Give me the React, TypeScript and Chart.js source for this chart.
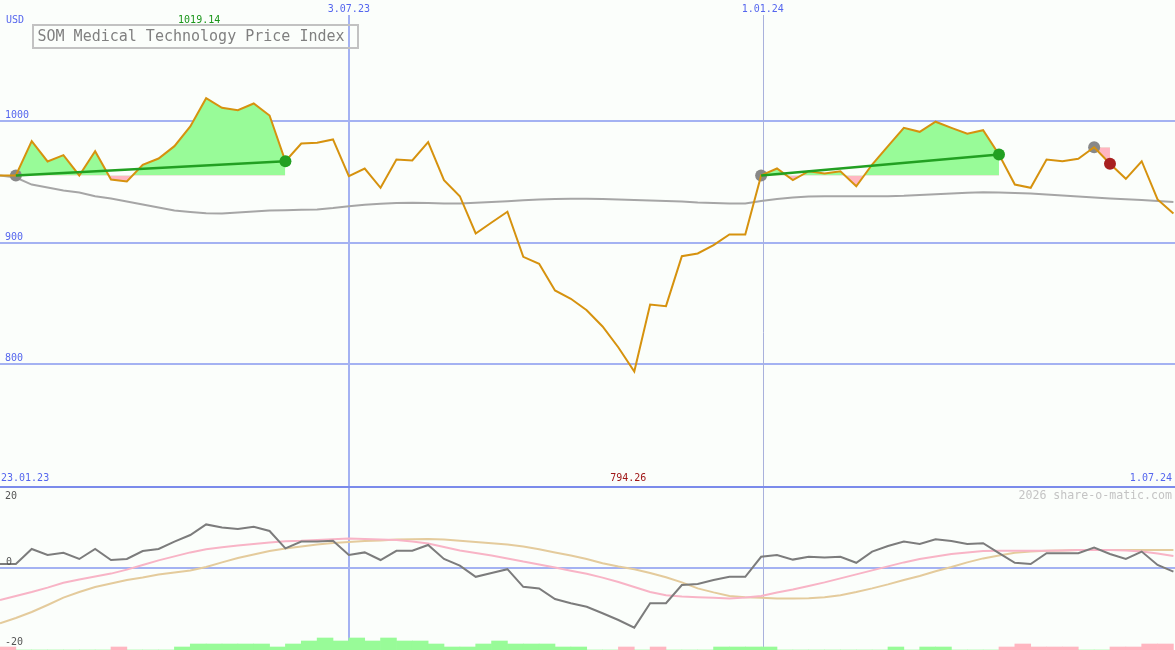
import React, { useEffect, useRef } from 'react';
import { Chart, registerables } from 'chart.js';

Chart.register(...registerables);

// ---- data (weekly points, index 0 = first week) ----
const PRICES = [
  955.6, 955.6, 983.8, 967.1, 972.3, 955.6, 975.6, 952.3, 950.6, 964.4,
  969.5, 979.7, 995.9, 1019.14, 1011.3, 1009.3, 1014.8, 1004.9, 967.3, 981.9,
  982.5, 985.2, 955.0, 961.3, 945.4, 968.7, 967.9, 983.0, 951.7, 938.5,
  907.8, 916.9, 925.7, 888.6, 882.9, 860.9, 854.1, 844.7, 831.3, 814.0,
  794.26, 849.4, 848.0, 889.1, 891.4, 898.2, 907.0, 907.0, 955.6, 961.3,
  951.7, 959.1, 957.2, 959.1, 946.7, 964.6, 979.7, 994.8, 991.5, 999.8,
  994.8, 989.9, 992.8, 972.8, 948.1, 945.4, 968.7, 967.3, 969.3, 978.8,
  965.2, 952.8, 967.3, 935.8, 924.3,
];

const MOVING_AVG = [
  955.6, 953.9, 948.1, 945.7, 943.2, 941.6, 938.5, 936.6, 934.2, 931.7,
  929.2, 926.7, 925.5, 924.5, 924.3, 925.1, 925.9, 926.7, 927.0, 927.3,
  927.6, 928.8, 930.3, 931.4, 932.3, 932.9, 933.1, 932.9, 932.5, 932.5,
  933.1, 933.7, 934.4, 935.1, 935.8, 936.2, 936.4, 936.4, 936.2, 935.8,
  935.4, 935.0, 934.6, 934.2, 933.3, 932.9, 932.5, 932.5, 934.6, 936.2,
  937.4, 938.3, 938.5, 938.5, 938.5, 938.5, 938.5, 938.8, 939.5, 940.2,
  940.7, 941.3, 941.7, 941.6, 941.2, 940.7, 939.9, 939.1, 938.3, 937.4,
  936.6, 936.0, 935.4, 934.6, 933.7,
];

const MOMENTUM = [
  1.0, 1.0, 4.75, 3.25, 3.8, 2.25, 4.75, 2.0, 2.25, 4.25,
  4.75, 6.6, 8.25, 10.9, 10.1, 9.75, 10.3, 9.25, 4.9, 6.6,
  6.6, 6.8, 3.25, 3.9, 2.0, 4.3, 4.3, 5.75, 2.25, 0.6,
  -2.2, -1.25, -0.3, -4.7, -5.1, -7.75, -8.8, -9.7, -11.3, -13.0,
  -14.9, -8.8, -8.8, -4.25, -4.0, -3.0, -2.2, -2.2, 2.8, 3.25,
  2.1, 2.8, 2.6, 2.8, 1.3, 4.1, 5.5, 6.6, 6.0, 7.2,
  6.75, 6.0, 6.2, 3.7, 1.3, 1.0, 3.7, 3.7, 3.7, 5.1,
  3.5, 2.25, 4.1, 0.75, -0.9,
];

const FAST_SIGNAL = [
  -8.0, -7.0, -6.0, -4.9, -3.7, -2.9, -2.1, -1.4, -0.4, 0.75,
  1.9, 2.9, 3.9, 4.7, 5.2, 5.6, 6.0, 6.4, 6.7, 6.8,
  7.0, 7.2, 7.4, 7.25, 7.1, 7.0, 6.6, 6.1, 5.25, 4.4,
  3.75, 3.1, 2.4, 1.6, 0.9, 0.1, -0.7, -1.45, -2.4, -3.5,
  -4.75, -6.0, -6.8, -7.1, -7.3, -7.45, -7.6, -7.4, -7.0, -6.1,
  -5.4, -4.5, -3.6, -2.6, -1.6, -0.6, 0.4, 1.4, 2.25, 2.9,
  3.5, 3.9, 4.25, 4.3, 4.3, 4.3, 4.3, 4.4, 4.5, 4.5,
  4.5, 4.4, 4.1, 3.6, 3.0,
];

const SLOW_SIGNAL = [
  -13.8, -12.5, -11.0, -9.25, -7.4, -6.0, -4.75, -3.9, -3.0, -2.4,
  -1.6, -1.1, -0.6, 0.25, 1.4, 2.5, 3.4, 4.25, 4.9, 5.4,
  5.9, 6.25, 6.5, 6.75, 6.9, 7.1, 7.2, 7.25, 7.1, 6.8,
  6.5, 6.2, 5.9, 5.4, 4.7, 3.9, 3.1, 2.25, 1.2, 0.4,
  -0.3, -1.25, -2.3, -3.6, -5.1, -6.1, -7.0, -7.3, -7.45, -7.6,
  -7.65, -7.55, -7.3, -6.8, -6.0, -5.1, -4.1, -3.0, -2.0, -0.8,
  0.25, 1.4, 2.4, 3.1, 3.8, 4.1, 4.3, 4.4, 4.5, 4.5,
  4.5, 4.5, 4.5, 4.5, 4.5,
];

// one value per week interval (between point i and i+1)
const HISTOGRAM = [
  -1, 0, 0, 0, 0, 0, 0, -1, 0, 0,
  0, 1, 2, 2, 2, 2, 2, 1, 2, 3,
  4, 3, 4, 3, 4, 3, 3, 2, 1, 1,
  2, 3, 2, 2, 2, 1, 1, 0, 0, -1,
  0, -1, 0, 0, 0, 1, 1, 1, 1, 0,
  0, 0, 0, 0, 0, 0, 1, 0, 1, 1,
  0, 0, 0, -1, -2, -1, -1, -1, 0, 0,
  -1, -1, -2, -2,
];

const PRICE_TICKS = [1000, 900, 800];
const PANEL_FLOOR = 700;
const OSC_TICKS = [20, 0, -20];
const DATE_TICKS = [
  { label: '3.07.23', at: 22, major: false },
  { label: '1.01.24', at: 48.1, major: true },
];
const FIRST_DATE = '23.01.23';
const LAST_DATE = '1.07.24';
const TITLE = 'SOM Medical Technology Price Index';
const CURRENCY = 'USD';
const WATERMARK = '2026 share-o-matic.com';

const SIGNAL_REGIONS = [
  [1, 18],
  [48, 63],
  [69, 70],
];
const TREND_SEGMENTS = [
  [1, 18],
  [48, 63],
];
const START_MARKERS = [1, 48, 69];
const END_MARKERS = [
  { i: 18, up: true },
  { i: 63, up: true },
  { i: 70, up: false },
];

// ---- styles ----
const BG = '#fbfefb';
const GRID = '#a4b2f2';
const SEPARATOR = '#7b8beb';
const BLUE_TEXT = '#5566ee';
const PRICE_COLOR = '#d6920e';
const MA_COLOR = '#a6a6a6';
const GREEN_FILL = '#98fb98';
const PINK_FILL = '#ffb6c1';
const TREND_COLOR = '#22a022';
const MONO = '"DejaVu Sans Mono", monospace';

const xy = (arr: number[], offset = 0) => arr.map((v, i) => ({ x: i + offset, y: v }));

const overlayPlugin = {
  id: 'overlay',
  beforeDraw(chart: any) {
    const { ctx, width, height } = chart;
    ctx.save();
    ctx.fillStyle = BG;
    ctx.fillRect(0, 0, width, height);
    ctx.restore();
  },
  beforeDatasetsDraw(chart: any) {
    const { ctx, width, height } = chart;
    const xs = chart.scales.x;
    const ys = chart.scales.y;
    const yo = chart.scales.yo;
    ctx.save();
    const hline = (py: number, color: string, w: number) => {
      ctx.strokeStyle = color;
      ctx.lineWidth = w;
      ctx.beginPath();
      ctx.moveTo(0, py);
      ctx.lineTo(width, py);
      ctx.stroke();
    };
    PRICE_TICKS.forEach((v) => hline(Math.round(ys.getPixelForValue(v)), GRID, 2));
    hline(Math.round(yo.getPixelForValue(0)), GRID, 2);
    DATE_TICKS.forEach((d) => {
      const px = xs.getPixelForValue(d.at);
      ctx.strokeStyle = d.major ? '#a9b1dc' : GRID;
      ctx.lineWidth = d.major ? 1 : 2;
      const cx = d.major ? Math.round(px) + 0.5 : Math.round(px);
      ctx.beginPath();
      ctx.moveTo(cx, 15);
      ctx.lineTo(cx, height);
      ctx.stroke();
    });
    hline(Math.round(ys.getPixelForValue(PANEL_FLOOR)) + 1, SEPARATOR, 2);
    ctx.restore();
  },
  afterDatasetsDraw(chart: any) {
    const { ctx, width } = chart;
    const xs = chart.scales.x;
    const ys = chart.scales.y;
    const yo = chart.scales.yo;
    ctx.save();
    ctx.textBaseline = 'middle';
    ctx.font = `10px ${MONO}`;

    ctx.fillStyle = BLUE_TEXT;
    ctx.textAlign = 'left';
    ctx.fillText(CURRENCY, 6, 20);
    PRICE_TICKS.forEach((v) => ctx.fillText(String(v), 5, ys.getPixelForValue(v) - 6));
    ctx.textAlign = 'center';
    DATE_TICKS.forEach((d) => ctx.fillText(d.label, xs.getPixelForValue(d.at), 9));
    const floorY = ys.getPixelForValue(PANEL_FLOOR);
    ctx.textAlign = 'left';
    ctx.fillText(FIRST_DATE, 1, floorY - 8);
    ctx.textAlign = 'right';
    ctx.fillText(LAST_DATE, width - 3, floorY - 8);

    // max / min
    let maxI = 0;
    let minI = 0;
    PRICES.forEach((p, i) => {
      if (p > PRICES[maxI]) maxI = i;
      if (p < PRICES[minI]) minI = i;
    });
    ctx.textAlign = 'center';
    ctx.fillStyle = '#1a961a';
    ctx.fillText(PRICES[maxI].toFixed(2), xs.getPixelForValue(maxI) - 7, 20);
    ctx.fillStyle = '#a01818';
    ctx.fillText(PRICES[minI].toFixed(2), xs.getPixelForValue(minI) - 6, floorY - 8);

    // oscillator labels
    ctx.fillStyle = '#555555';
    ctx.textAlign = 'left';
    OSC_TICKS.forEach((v) => {
      const py = yo.getPixelForValue(v);
      ctx.fillText(String(v), v === 0 ? 6 : 5, v > 0 ? py + 8 : py - 6);
    });

    // watermark
    ctx.font = `11.6px ${MONO}`;
    ctx.fillStyle = '#c4c4c4';
    ctx.textAlign = 'right';
    ctx.fillText(WATERMARK, width - 3, floorY + 10);

    // title box
    ctx.strokeStyle = '#c2c2c2';
    ctx.lineWidth = 2;
    ctx.strokeRect(33, 25, 325, 23);
    ctx.font = `15px ${MONO}`;
    ctx.fillStyle = '#808080';
    ctx.textAlign = 'left';
    ctx.fillText(TITLE, 37.5, 37);
    ctx.restore();
  },
};

export default function App() {
  const canvasRef = useRef<HTMLCanvasElement | null>(null);

  useEffect(() => {
    document.body.style.margin = '0';
    document.body.style.background = BG;
    const canvas = canvasRef.current;
    if (!canvas) return;

    const datasets: any[] = [];

    SIGNAL_REGIONS.forEach(([a, b]) => {
      datasets.push({
        type: 'line',
        data: PRICES.slice(a, b + 1).map((p, k) => ({ x: a + k, y: p })),
        yAxisID: 'y',
        borderColor: 'rgba(0,0,0,0)',
        borderWidth: 0,
        pointRadius: 0,
        fill: { target: { value: PRICES[a] }, above: GREEN_FILL, below: PINK_FILL },
        order: 20,
      });
    });

    datasets.push({
      type: 'bar',
      data: HISTOGRAM.map((v, i) => ({ x: i + 0.5, y: Math.abs(v) })),
      yAxisID: 'yh',
      backgroundColor: HISTOGRAM.map((v) => (v >= 0 ? GREEN_FILL : PINK_FILL)),
      borderWidth: 0,
      barPercentage: 1,
      categoryPercentage: 1,
      grouped: false,
      order: 19,
    });

    datasets.push({
      type: 'line',
      data: xy(MOVING_AVG),
      yAxisID: 'y',
      borderColor: MA_COLOR,
      borderWidth: 2,
      pointRadius: 0,
      fill: false,
      order: 15,
    });

    datasets.push({
      type: 'line',
      data: xy(SLOW_SIGNAL),
      yAxisID: 'yo',
      borderColor: '#e4cb9c',
      borderWidth: 2,
      pointRadius: 0,
      fill: false,
      order: 14,
    });
    datasets.push({
      type: 'line',
      data: xy(FAST_SIGNAL),
      yAxisID: 'yo',
      borderColor: '#f8b4c6',
      borderWidth: 2,
      pointRadius: 0,
      fill: false,
      order: 13,
    });
    datasets.push({
      type: 'line',
      data: xy(MOMENTUM),
      yAxisID: 'yo',
      borderColor: '#7c7c7c',
      borderWidth: 2,
      pointRadius: 0,
      fill: false,
      order: 12,
    });

    datasets.push({
      type: 'line',
      data: START_MARKERS.map((i) => ({ x: i, y: PRICES[i] })),
      yAxisID: 'y',
      showLine: false,
      pointRadius: 6,
      pointBackgroundColor: '#888888',
      pointBorderWidth: 0,
      order: 8,
    });

    datasets.push({
      type: 'line',
      data: xy(PRICES),
      yAxisID: 'y',
      borderColor: PRICE_COLOR,
      borderWidth: 2,
      pointRadius: 0,
      fill: false,
      order: 6,
    });

    TREND_SEGMENTS.forEach(([a, b]) => {
      datasets.push({
        type: 'line',
        data: [
          { x: a, y: PRICES[a] },
          { x: b, y: PRICES[b] },
        ],
        yAxisID: 'y',
        borderColor: TREND_COLOR,
        borderWidth: 2.5,
        pointRadius: 0,
        fill: false,
        order: 4,
      });
    });

    datasets.push({
      type: 'line',
      data: END_MARKERS.map((m) => ({ x: m.i, y: PRICES[m.i] })),
      yAxisID: 'y',
      showLine: false,
      pointRadius: 6,
      pointBackgroundColor: END_MARKERS.map((m) => (m.up ? '#22a022' : '#a82020')),
      pointBorderWidth: 0,
      order: 1,
    });

    const chart = new Chart(canvas, {
      type: 'line',
      data: { datasets },
      options: {
        responsive: false,
        animation: false,
        devicePixelRatio: 1,
        layout: { padding: 0, autoPadding: false },
        elements: { line: { tension: 0 } },
        plugins: {
          legend: { display: false },
          tooltip: { enabled: false },
          title: { display: false },
        },
        scales: {
          x: { type: 'linear', min: 0, max: 74.1, offset: false, display: false },
          y: { type: 'linear', min: 565, max: 1100, display: false },
          yo: { type: 'linear', min: -20.5, max: 142, display: false },
          yh: { type: 'linear', min: 0, max: 650 / 3, display: false },
        },
      } as any,
      plugins: [overlayPlugin],
    });

    return () => chart.destroy();
  }, []);

  return (
    <div style={{ width: 1175, height: 650, background: BG }}>
      <canvas ref={canvasRef} width={1175} height={650} style={{ display: 'block' }} />
    </div>
  );
}
